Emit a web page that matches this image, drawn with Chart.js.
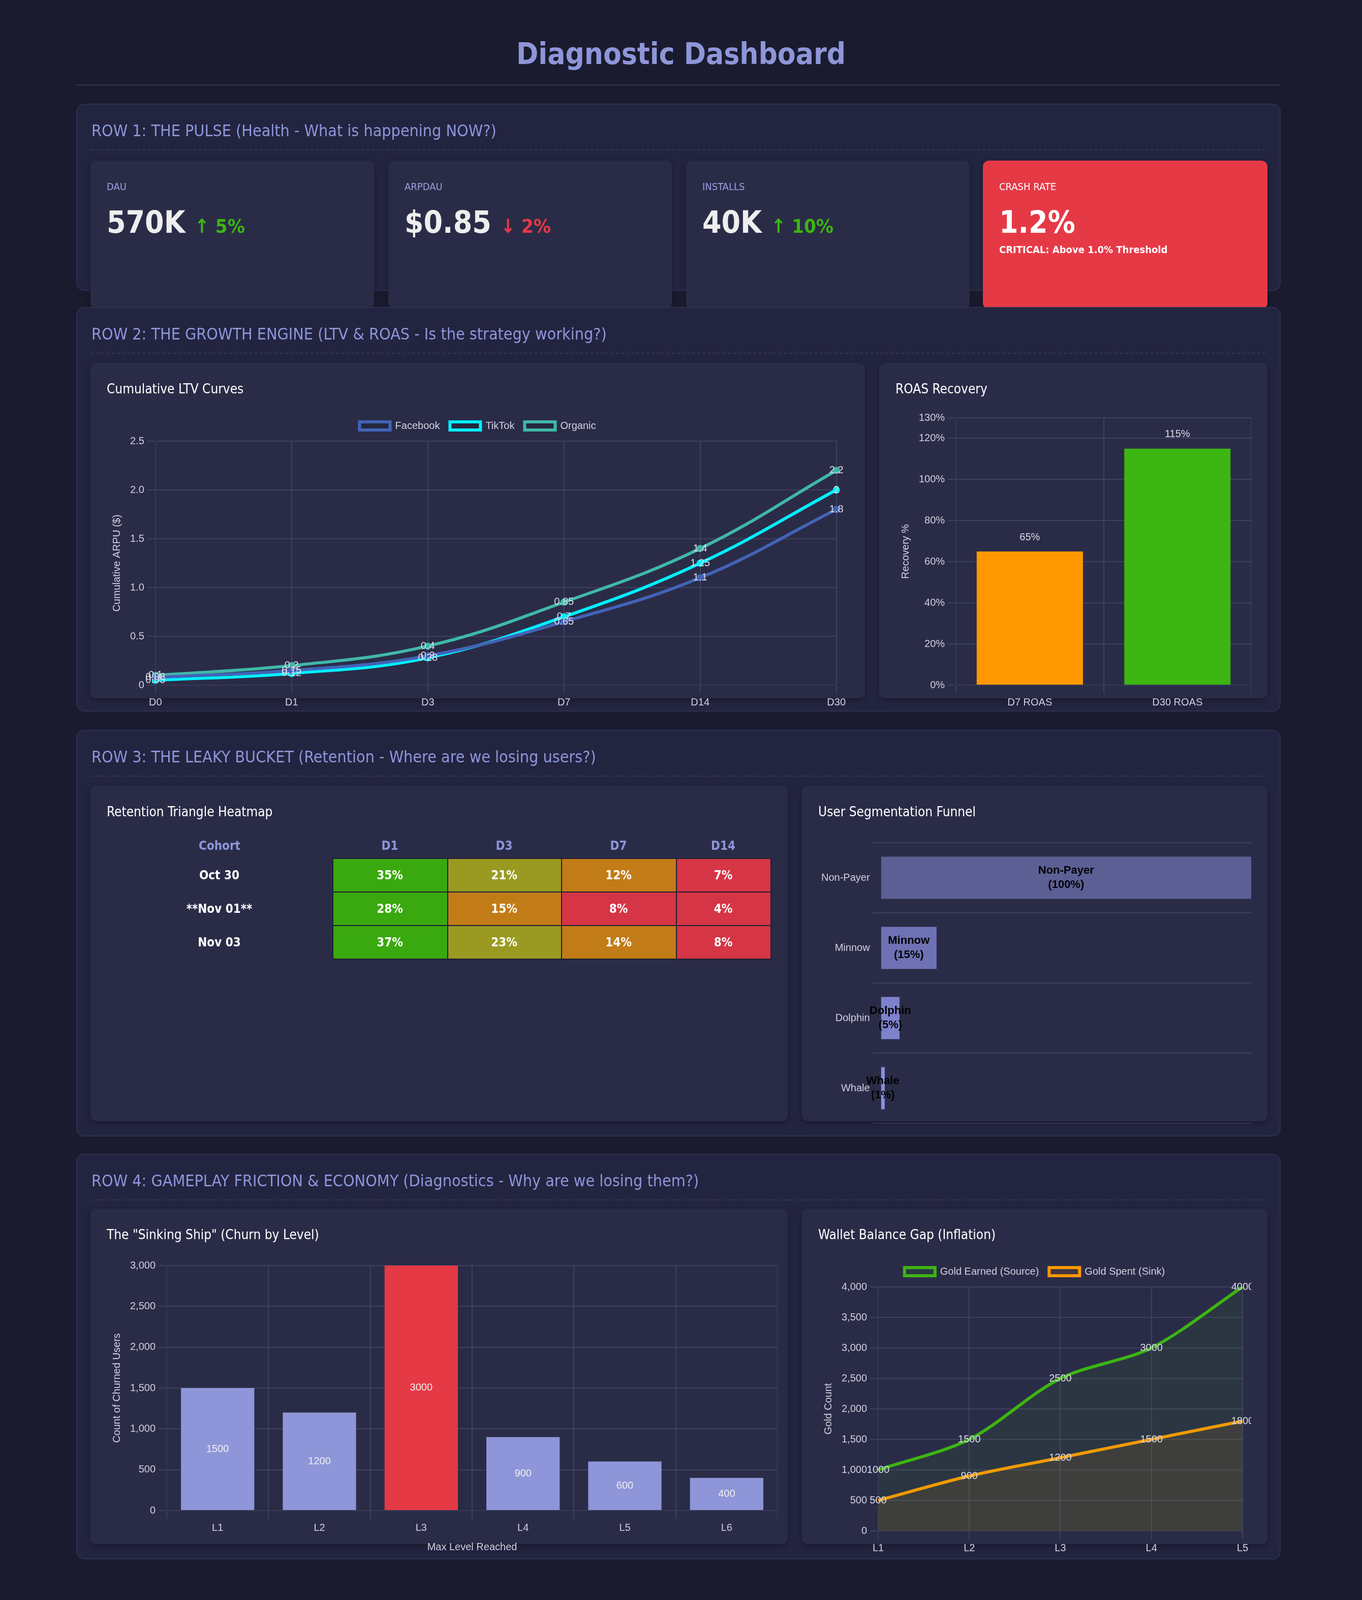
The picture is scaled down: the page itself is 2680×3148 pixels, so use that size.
<!DOCTYPE html>
<html>
<head>
<meta charset="utf-8">
<script src="https://cdn.jsdelivr.net/npm/chart.js@4.4.0/dist/chart.umd.min.js"></script>
<style>
html{overflow:hidden;}
html,body{margin:0;padding:0;background:#1a1b2e;}
#page{width:1340px;height:1568px;position:relative;transform-origin:0 0;font-family:"DejaVu Sans Condensed","DejaVu Sans",sans-serif;color:#e8e8f0;}
h1{margin:0;position:absolute;left:0;right:0;top:36px;text-align:center;font-size:29px;color:#8e96d9;font-weight:bold;}
.rule{position:absolute;left:75px;width:1185px;top:83px;border-top:1px solid #33354f;}
.sec{position:absolute;left:75px;width:1185px;background:#232440;border:1px solid #2e3050;border-radius:8px;box-sizing:border-box;}
.sec h2{margin:0;position:absolute;left:14px;top:16px;font-size:16px;font-weight:normal;color:#8e96d9;}
.sec .dash{position:absolute;left:14px;right:14px;top:44px;border-top:1px dashed #34365a;}
.card{position:absolute;background:#2a2c47;border-radius:6px;box-shadow:0 2px 6px rgba(0,0,0,.3);}
.card h3{margin:0;position:absolute;left:16px;top:18px;font-size:13px;font-weight:normal;color:#fff;}
.kpi .lab{position:absolute;left:16px;top:20px;font-size:10px;color:#9aa0e0;}
.kpi .val{position:absolute;left:16px;top:43px;font-size:30px;font-weight:bold;color:#eee;}
.kpi .val span{font-size:19px;}
.up{color:#3db512;} .down{color:#e63946;}
.cv{position:absolute;}
table{position:absolute;left:16px;top:47px;border-collapse:collapse;table-layout:fixed;font-size:12px;font-weight:bold;}
th{color:#8e96d9;height:22px;text-align:center;}
td{height:30px;text-align:center;color:#fff;border:1px solid #1e1f33;}
td.c{border:none;}
</style>
</head>
<body>
<div id="page">
<h1>Diagnostic Dashboard</h1>
<div class="rule"></div>

<div class="sec" style="top:102px;height:184px;"><h2>ROW 1: THE PULSE (Health - What is happening NOW?)</h2><div class="dash"></div></div>
<div class="card kpi" style="left:89px;top:158px;width:279px;height:146px;"><div class="lab">DAU</div><div class="val">570K <span class="up">↑ 5%</span></div></div>
<div class="card kpi" style="left:382px;top:158px;width:279px;height:146px;"><div class="lab">ARPDAU</div><div class="val">$0.85 <span class="down">↓ 2%</span></div></div>
<div class="card kpi" style="left:675px;top:158px;width:279px;height:146px;"><div class="lab">INSTALLS</div><div class="val">40K <span class="up">↑ 10%</span></div></div>
<div class="card kpi" style="left:967px;top:158px;width:280px;height:146px;background:#e63946;"><div class="lab" style="color:#fff">CRASH RATE</div><div class="val" style="color:#fff">1.2%</div><div style="position:absolute;left:16px;top:82px;font-size:10px;font-weight:bold;color:#fff;">CRITICAL: Above 1.0% Threshold</div></div>

<div class="sec" style="top:302px;height:398px;"><h2>ROW 2: THE GROWTH ENGINE (LTV &amp; ROAS - Is the strategy working?)</h2><div class="dash"></div></div>
<div class="card" style="left:89px;top:357px;width:762px;height:330px;"><h3>Cumulative LTV Curves</h3></div>
<div class="cv" style="left:105px;top:404px;width:730px;height:296px;"><canvas id="ltv"></canvas></div>
<div class="card" style="left:865px;top:357px;width:382px;height:330px;"><h3>ROAS Recovery</h3></div>
<div class="cv" style="left:881px;top:402px;width:350px;height:298px;"><canvas id="roas"></canvas></div>

<div class="sec" style="top:718px;height:400px;"><h2>ROW 3: THE LEAKY BUCKET (Retention - Where are we losing users?)</h2><div class="dash"></div></div>
<div class="card" style="left:89px;top:773px;width:686px;height:330px;"><h3>Retention Triangle Heatmap</h3>
<table id="heat"></table></div>
<div class="card" style="left:789px;top:773px;width:458px;height:330px;"><h3>User Segmentation Funnel</h3></div>
<div class="cv" style="left:805px;top:820px;width:426px;height:294px;"><canvas id="funnel"></canvas></div>

<div class="sec" style="top:1135px;height:399px;"><h2>ROW 4: GAMEPLAY FRICTION &amp; ECONOMY (Diagnostics - Why are we losing them?)</h2><div class="dash"></div></div>
<div class="card" style="left:89px;top:1189px;width:686px;height:330px;"><h3>The "Sinking Ship" (Churn by Level)</h3></div>
<div class="cv" style="left:105px;top:1236px;width:660px;height:296px;"><canvas id="sink"></canvas></div>
<div class="card" style="left:789px;top:1189px;width:458px;height:330px;"><h3>Wallet Balance Gap (Inflation)</h3></div>
<div class="cv" style="left:805px;top:1236px;width:426px;height:296px;"><canvas id="wallet"></canvas></div>
</div>

<script>
var s = Math.max(window.innerWidth, document.documentElement.clientWidth) / 1340;
if (s > 1.9 && s < 2.1) s = 2;
var page = document.getElementById('page');
page.style.transform = 'scale(' + s + ')';
document.body.style.height = (1568 * s) + 'px';

// data
var ltvDays = ['D0', 'D1', 'D3', 'D7', 'D14', 'D30'];
var ltvFacebook = [0.08, 0.15, 0.3, 0.65, 1.1, 1.8];
var ltvTikTok = [0.05, 0.12, 0.28, 0.7, 1.25, 2];
var ltvOrganic = [0.1, 0.2, 0.4, 0.85, 1.4, 2.2];
var roasLabels = ['D7 ROAS', 'D30 ROAS'];
var roasValues = [65, 115];
var cohorts = ['Oct 30', '**Nov 01**', 'Nov 03'];
var retDays = ['D1', 'D3', 'D7', 'D14'];
var retention = [[35, 21, 12, 7], [28, 15, 8, 4], [37, 23, 14, 8]];
var segments = ['Non-Payer', 'Minnow', 'Dolphin', 'Whale'];
var segmentPct = [100, 15, 5, 1];
var levels = ['L1', 'L2', 'L3', 'L4', 'L5', 'L6'];
var churned = [1500, 1200, 3000, 900, 600, 400];
var walletLevels = ['L1', 'L2', 'L3', 'L4', 'L5'];
var goldEarned = [1000, 1500, 2500, 3000, 4000];
var goldSpent = [500, 900, 1200, 1500, 1800];

Chart.defaults.color = '#cfd0e0';
Chart.defaults.font.family = 'Liberation Sans, Arial, sans-serif';
Chart.defaults.font.size = 10;
Chart.defaults.devicePixelRatio = 2;
var grid = {color: 'rgba(120,122,180,0.25)'};

// little value-label plugin (no datalabels plugin available offline)
var valueLabels = {
  id: 'valueLabels',
  afterDatasetsDraw: function(chart, args, opts) {
    if (!opts.mode) return;
    var c = chart.ctx;
    chart.data.datasets.forEach(function(ds, di) {
      chart.getDatasetMeta(di).data.forEach(function(el, i) {
        var v = ds.data[i];
        c.save();
        c.textAlign = 'center';
        c.textBaseline = 'middle';
        if (opts.mode === 'point') {
          c.font = '10px Liberation Sans';
          c.fillStyle = '#dcdce8';
          c.fillText(v, el.x, el.y);
        } else if (opts.mode === 'top') {
          c.font = '10px Liberation Sans';
          c.fillStyle = '#dcdce8';
          c.fillText(v + '%', el.x, el.y - 14);
        } else if (opts.mode === 'center') {
          c.font = '10px Liberation Sans';
          c.fillStyle = '#eeeeee';
          c.fillText(v, el.x, (el.y + el.base) / 2);
        } else if (opts.mode === 'funnel') {
          c.font = 'bold 11px Liberation Sans';
          c.fillStyle = '#000';
          var cx = (el.x + el.base) / 2;
          c.fillText(chart.data.labels[i], cx, el.y - 7);
          c.fillText('(' + v + '%)', cx, el.y + 7);
        }
        c.restore();
      });
    });
  }
};
Chart.register(valueLabels);

new Chart(document.getElementById('ltv'), {
  type: 'line',
  data: {labels: ltvDays, datasets: [
    {label: 'Facebook', data: ltvFacebook, borderColor: '#4263b8', borderWidth: 3, tension: 0.4, pointRadius: 2},
    {label: 'TikTok', data: ltvTikTok, borderColor: '#00f0ff', borderWidth: 3, tension: 0.4, pointRadius: 2},
    {label: 'Organic', data: ltvOrganic, borderColor: '#40b8a8', borderWidth: 3, tension: 0.4, pointRadius: 2}
  ]},
  options: {responsive: true, maintainAspectRatio: false, animation: false,
    plugins: {legend: {labels: {boxWidth: 30, boxHeight: 8}}, valueLabels: {mode: 'point'}},
    scales: {x: {grid: grid}, y: {min: 0, max: 2.5, ticks: {stepSize: 0.5}, grid: grid,
      title: {display: true, text: 'Cumulative ARPU ($)'}}}}
});

new Chart(document.getElementById('roas'), {
  type: 'bar',
  data: {labels: roasLabels, datasets: [{data: roasValues, backgroundColor: ['#ff9800', '#3db512'], barPercentage: 0.72, categoryPercentage: 1}]},
  options: {responsive: true, maintainAspectRatio: false, animation: false,
    plugins: {legend: {display: false}, valueLabels: {mode: 'top'}},
    scales: {x: {grid: grid}, y: {min: 0, max: 130, grid: grid,
      ticks: {stepSize: 20, callback: function(v) { return v + '%'; }},
      afterBuildTicks: function(ax) { ax.ticks = [0,20,40,60,80,100,120,130].map(function(v){return {value: v};}); },
      title: {display: true, text: 'Recovery %'}}}}
});

// heatmap table
function heatColor(v) {
  if (v >= 25) return '#3aa80f';
  if (v >= 18) return '#9a9a22';
  if (v >= 10) return '#c27c17';
  return '#d63545';
}
var colW = [222, 113, 112, 113, 93];
var tbl = document.getElementById('heat');
var h = '<colgroup>' + colW.map(function(w){ return '<col style="width:' + w + 'px">'; }).join('') + '</colgroup>';
h += '<tr><th>Cohort</th>';
retDays.forEach(function(d) { h += '<th>' + d + '</th>'; });
h += '</tr>';
cohorts.forEach(function(c, r) {
  h += '<tr><td class="c">' + c + '</td>';
  retention[r].forEach(function(v) { h += '<td style="background:' + heatColor(v) + '">' + v + '%</td>'; });
  h += '</tr>';
});
tbl.style.width = '653px';
tbl.innerHTML = h;

new Chart(document.getElementById('funnel'), {
  type: 'bar',
  data: {labels: segments, datasets: [{data: segmentPct, backgroundColor: ['#5c5f94', '#6e72b4', '#7d82cc', '#8a90dd'], barPercentage: 0.6, categoryPercentage: 1}]},
  options: {indexAxis: 'y', responsive: true, maintainAspectRatio: false, animation: false,
    plugins: {legend: {display: false}, valueLabels: {mode: 'funnel'}},
    scales: {x: {display: false, min: 0, max: 100}, y: {grid: grid, border: {display: false}}}}
});

new Chart(document.getElementById('sink'), {
  type: 'bar',
  data: {labels: levels, datasets: [{data: churned, backgroundColor: churned.map(function(v){ return v === 3000 ? '#e63946' : '#8e96d9'; }), barPercentage: 0.72, categoryPercentage: 1}]},
  options: {responsive: true, maintainAspectRatio: false, animation: false,
    plugins: {legend: {display: false}, valueLabels: {mode: 'center'}},
    scales: {x: {grid: grid, title: {display: true, text: 'Max Level Reached'}},
      y: {min: 0, max: 3000, ticks: {stepSize: 500}, grid: grid, title: {display: true, text: 'Count of Churned Users'}}}}
});

new Chart(document.getElementById('wallet'), {
  type: 'line',
  data: {labels: walletLevels, datasets: [
    {label: 'Gold Earned (Source)', data: goldEarned, borderColor: '#3db512', backgroundColor: 'rgba(61,181,18,0.08)', fill: true, borderWidth: 3, tension: 0.3, pointRadius: 0},
    {label: 'Gold Spent (Sink)', data: goldSpent, borderColor: '#ff9800', backgroundColor: 'rgba(255,152,0,0.1)', fill: true, borderWidth: 3, tension: 0.3, pointRadius: 0}
  ]},
  options: {responsive: true, maintainAspectRatio: false, animation: false,
    plugins: {legend: {labels: {boxWidth: 30, boxHeight: 8}}, valueLabels: {mode: 'point'}},
    scales: {x: {grid: grid}, y: {min: 0, max: 4000, ticks: {stepSize: 500}, grid: grid, title: {display: true, text: 'Gold Count'}}}}
});
</script>
</body>
</html>
